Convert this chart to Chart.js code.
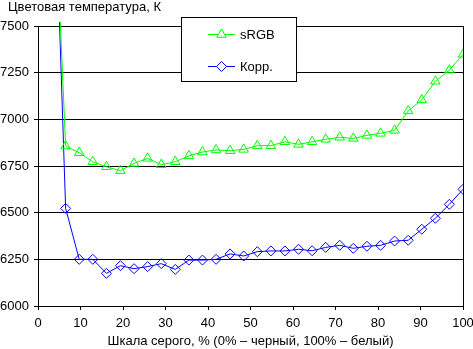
<!DOCTYPE html>
<html>
<head>
<meta charset="utf-8">
<script src="https://cdn.jsdelivr.net/npm/chart.js@4/dist/chart.umd.min.js"></script>
<style>
  html, body { margin: 0; padding: 0; background: #fff; }
  #wrap { width: 473px; height: 349px; }
</style>
</head>
<body>
<div id="wrap"><canvas id="c" width="473" height="349"></canvas></div>
<script>
const grayLevels = [3.2, 6.5, 9.7, 12.9, 16.1, 19.4, 22.6, 25.8, 29.0, 32.3, 35.5, 38.7, 41.9, 45.2, 48.4, 51.6,
  54.8, 58.1, 61.3, 64.5, 67.7, 71.0, 74.2, 77.4, 80.6, 83.9, 87.1, 90.3, 93.5, 96.8, 100];
const srgbValues = [8600, 6857, 6821, 6773, 6746, 6725, 6764, 6791, 6757, 6773, 6804, 6825, 6836, 6832, 6839, 6859,
  6859, 6880, 6866, 6880, 6893, 6904, 6898, 6914, 6925, 6941, 7045, 7104, 7204, 7264, 7348];
const corrValues = [8800, 6523, 6250, 6250, 6175, 6216, 6200, 6211, 6227, 6196, 6246, 6246, 6250, 6279, 6268, 6291,
  6295, 6295, 6304, 6296, 6314, 6325, 6309, 6320, 6325, 6348, 6352, 6411, 6470, 6545, 6625];
const seriesNames = ['sRGB', 'Корр.'];
const xTicks = [0, 10, 20, 30, 40, 50, 60, 70, 80, 90, 100];
const yTicks = [6000, 6250, 6500, 6750, 7000, 7250, 7500];
const yTitle = 'Цветовая температура, К';
const xTitle = 'Шкала серого, % (0% – черный, 100% – белый)';

const FONT = "'Liberation Sans', Arial, sans-serif";
Chart.defaults.font.family = FONT;
Chart.defaults.font.size = 13;
Chart.defaults.color = '#000';

const toPts = (vals) => vals.map((v, i) => ({ x: grayLevels[i], y: v }));

const frame = {
  id: 'frame',
  beforeDatasetsDraw(chart) {
    const { ctx, chartArea: a } = chart;
    ctx.save();
    ctx.strokeStyle = '#000';
    ctx.lineWidth = 1;
    const x = Math.round(a.right) + 0.5;
    ctx.beginPath();
    ctx.moveTo(x, Math.round(a.top));
    ctx.lineTo(x, Math.round(a.bottom) + 1);
    ctx.stroke();
    ctx.restore();
  },
  afterDraw(chart) {
    const { ctx } = chart;
    ctx.save();
    ctx.font = '13px ' + FONT;
    ctx.fillStyle = '#000';
    ctx.textBaseline = 'alphabetic';
    ctx.textAlign = 'left';
    ctx.fillText(yTitle, 8, 11);
    ctx.fillStyle = '#fff';
    ctx.fillRect(182, 17, 115, 65);
    ctx.strokeStyle = '#000';
    ctx.lineWidth = 1;
    ctx.strokeRect(181.5, 17.5, 115, 64);
    const rows = [34, 66];
    chart.data.datasets.forEach((ds, i) => {
      const y = rows[i] + 0.5;
      ctx.strokeStyle = ds.borderColor;
      ctx.lineWidth = 1;
      ctx.beginPath();
      ctx.moveTo(208, y);
      ctx.lineTo(235, y);
      ctx.stroke();
      ctx.fillStyle = '#fff';
      Chart.helpers.drawPoint(ctx, {
        pointStyle: ds.pointStyle, radius: ds.pointRadius, rotation: 0, borderWidth: 1
      }, 221.5, y);
      ctx.fillStyle = '#000';
      ctx.textBaseline = 'middle';
      ctx.fillText(ds.label, 240, rows[i] + 1);
    });
    ctx.restore();
  }
};

new Chart(document.getElementById('c'), {
  type: 'line',
  data: {
    datasets: [
      {
        label: seriesNames[0], data: toPts(srgbValues),
        borderColor: '#00ff00', backgroundColor: '#ffffff',
        borderWidth: 1, pointStyle: 'triangle', pointRadius: 5.5,
        pointBorderColor: '#00ff00', pointBackgroundColor: 'rgba(255,255,255,0)', pointBorderWidth: 1,
        tension: 0, clip: { left: 0, top: 4, right: 0, bottom: 0 }
      },
      {
        label: seriesNames[1], data: toPts(corrValues),
        borderColor: '#0000ff', backgroundColor: '#ffffff',
        borderWidth: 1, pointStyle: 'rectRot', pointRadius: 5,
        pointBorderColor: '#0000ff', pointBackgroundColor: 'rgba(255,255,255,0)', pointBorderWidth: 1,
        tension: 0, clip: { left: 0, top: 4, right: 0, bottom: 0 }
      }
    ]
  },
  options: {
    responsive: false,
    animation: false,
    events: [],
    layout: { padding: { top: 26, right: 10, left: 0, bottom: 0 } },
    plugins: { legend: { display: false }, tooltip: { enabled: false }, title: { display: false } },
    scales: {
      x: {
        type: 'linear', min: 0, max: 100,
        afterBuildTicks(s) { s.ticks = xTicks.map(v => ({ value: v })); },
        afterFit(s) { s.height = 43; s.paddingLeft = 0; s.paddingRight = 0; },
        grid: { drawOnChartArea: false, drawTicks: true, tickLength: 4, color: '#000', lineWidth: 1 },
        border: { display: true, color: '#000', width: 1 },
        ticks: { padding: 6, maxRotation: 0, autoSkip: false, color: '#000', font: { size: 13 },
          callback: (v) => String(v) },
        title: { display: true, text: xTitle, color: '#000', font: { size: 13 }, padding: { top: 0, bottom: 0 } }
      },
      y: {
        type: 'linear', min: 6000, max: 7500,
        afterBuildTicks(s) { s.ticks = yTicks.map(v => ({ value: v })); },
        afterFit(s) { s.width = 38; s.paddingTop = 0; s.paddingBottom = 0; },
        grid: { drawOnChartArea: true, drawTicks: true, tickLength: 4, color: '#000', lineWidth: 1 },
        border: { display: true, color: '#000', width: 1 },
        ticks: { padding: 5, autoSkip: false, color: '#000', font: { size: 13 },
          callback: (v) => String(v) }
      }
    }
  },
  plugins: [frame]
});
</script>
</body>
</html>
